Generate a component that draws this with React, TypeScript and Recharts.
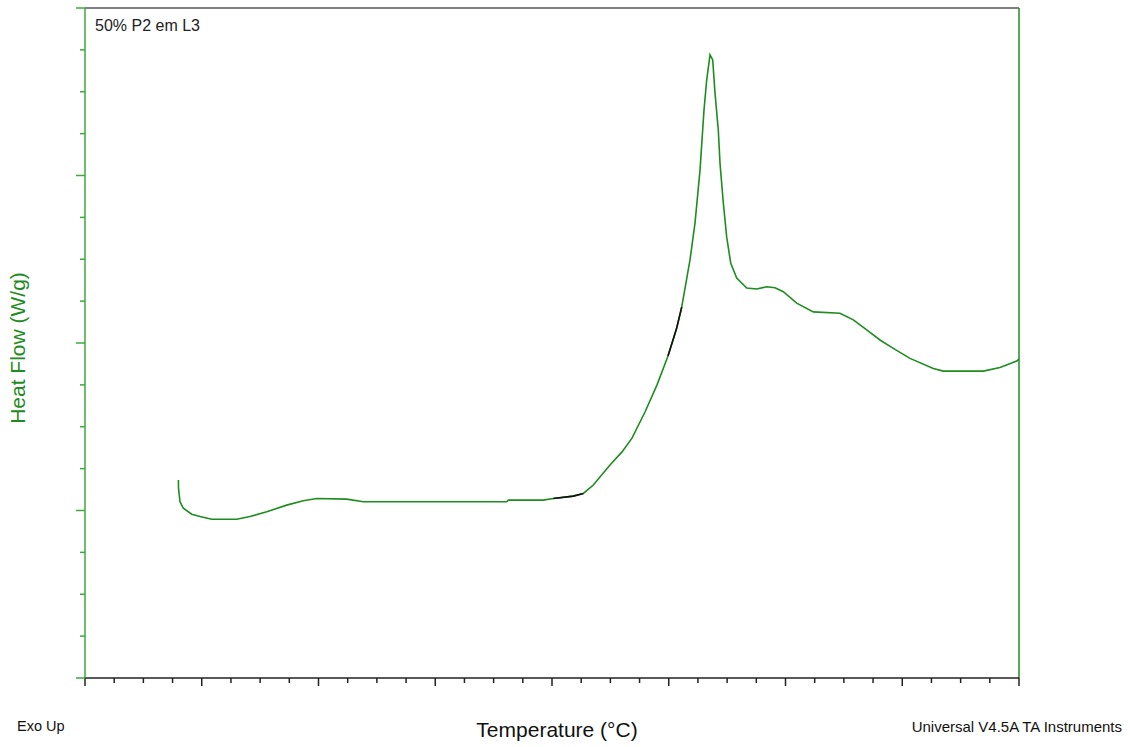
import React from 'react';
import { LineChart, Line, XAxis, YAxis, ReferenceLine } from 'recharts';

// DSC trace (temperature °C, heat flow W/g)
const temps = [
  -10.0, -9.96, -9.31, -7.9, -4.3, -0.75, 4.26, 14.97, 20.66, 27.82, 36.38, 43.49, 49.23, 62.08,
  69.19, 130.6, 131.29, 146.28, 150.56, 159.12, 163.41, 167.69, 174.84, 179.98, 184.26, 189.83,
  194.97, 199.68, 203.41, 205.55, 209.1, 211.24, 213.39, 215.1, 216.25, 217.67, 218.83, 219.81,
  221.22, 221.95, 223.37, 224.82, 226.53, 229.1, 233.39, 237.67, 241.95, 245.51, 249.06, 254.8,
  261.91, 273.34, 279.04, 284.78, 290.47, 296.17, 303.32, 313.3, 317.59, 334.71, 341.87, 349.02,
  350,
];
const heatFlow = [
  -0.409, -0.433, -0.474, -0.493, -0.511, -0.518, -0.526, -0.526, -0.518, -0.504, -0.484, -0.471,
  -0.464, -0.466, -0.474, -0.474, -0.469, -0.469, -0.464, -0.457, -0.449, -0.424, -0.364, -0.325,
  -0.284, -0.206, -0.125, -0.039, 0.045, 0.107, 0.248, 0.358, 0.516, 0.696, 0.785, 0.86, 0.845,
  0.746, 0.636, 0.537, 0.418, 0.316, 0.239, 0.194, 0.164, 0.161, 0.168, 0.165, 0.153, 0.119, 0.093,
  0.089, 0.069, 0.039, 0.009, -0.016, -0.046, -0.076, -0.084, -0.084, -0.073, -0.054, -0.048,
];
// temperature ranges drawn in black (analysis markers)
const markedRanges: [number, number][] = [
  [150.5, 163.5],
  [199.6, 205.6],
];

const X_MIN = -50;
const X_MAX = 350;
const X_MAJOR = 50;
const Y_MIN = -1;
const Y_MAX = 1;
const Y_MAJOR = 0.5;

const xTicks: number[] = [];
for (let i = 0; i <= 32; i++) xTicks.push(X_MIN + i * 12.5);
const yTicks: number[] = [];
for (let i = 0; i <= 16; i++) yTicks.push(Y_MIN + i * 0.125);

const data = temps.map((t, i) => ({
  t,
  hf: heatFlow[i],
  mark: markedRanges.some(([a, b]) => t >= a && t <= b) ? heatFlow[i] : null,
}));

const GREEN = '#1e8c1e';
const AXIS_GREEN = '#3da83d';
const FONT = '"Liberation Sans", Arial, sans-serif';

function isMajor(v: number, origin: number, step: number) {
  const r = Math.abs((v - origin) / step);
  return Math.abs(r - Math.round(r)) < 1e-6;
}

function XTick(props: any) {
  const { x, y, payload } = props;
  const len = isMajor(payload.value, X_MIN, X_MAJOR) ? 8 : 5;
  return <line x1={x} x2={x} y1={y} y2={y + len} stroke="#222" strokeWidth={1.5} />;
}

function YTick(props: any) {
  const { x, y, payload } = props;
  const len = isMajor(payload.value, Y_MIN, Y_MAJOR) ? 9 : 5;
  return <line x1={x - len} x2={x} y1={y} y2={y} stroke={AXIS_GREEN} strokeWidth={1.5} />;
}

export default function App() {
  return (
    <div
      style={{
        position: 'absolute',
        left: 0,
        top: 0,
        width: 1130,
        height: 747,
        background: '#fff',
        fontFamily: FONT,
      }}
    >
      <LineChart
        width={1130}
        height={747}
        data={data}
        margin={{ top: 8, right: 111, bottom: 59, left: 75 }}
      >
        <XAxis
          type="number"
          dataKey="t"
          domain={[X_MIN, X_MAX]}
          ticks={xTicks}
          interval={0}
          height={10}
          tickSize={0}
          tickMargin={0}
          tickLine={false}
          tick={<XTick />}
          axisLine={{ stroke: '#222', strokeWidth: 1.5 }}
          allowDataOverflow
        />
        <YAxis
          type="number"
          domain={[Y_MIN, Y_MAX]}
          ticks={yTicks}
          interval={0}
          width={10}
          tickSize={0}
          tickMargin={0}
          tickLine={false}
          tick={<YTick />}
          axisLine={{ stroke: AXIS_GREEN, strokeWidth: 1.5 }}
          allowDataOverflow
        />
        <ReferenceLine y={Y_MAX} stroke="#555" strokeWidth={1.5} />
        <ReferenceLine x={X_MAX} stroke={GREEN} strokeWidth={1.5} />
        <Line
          type="linear"
          dataKey="hf"
          stroke={GREEN}
          strokeWidth={1.6}
          dot={false}
          isAnimationActive={false}
        />
        <Line
          type="linear"
          dataKey="mark"
          stroke="#111"
          strokeWidth={1.6}
          dot={false}
          connectNulls={false}
          isAnimationActive={false}
        />
      </LineChart>

      <div style={{ position: 'absolute', left: 95, top: 17, fontSize: 16, color: '#222' }}>
        50% P2 em L3
      </div>
      <div
        style={{
          position: 'absolute',
          left: 18,
          top: 348,
          transform: 'translate(-50%, -50%) rotate(-90deg)',
          whiteSpace: 'nowrap',
          fontSize: 21,
          color: GREEN,
        }}
      >
        Heat Flow (W/g)
      </div>
      <div style={{ position: 'absolute', left: 17, top: 718, fontSize: 14.5, color: '#111' }}>
        Exo Up
      </div>
      <div
        style={{
          position: 'absolute',
          left: 557,
          top: 718,
          transform: 'translateX(-50%)',
          whiteSpace: 'nowrap',
          fontSize: 21,
          color: '#111',
        }}
      >
        Temperature (°C)
      </div>
      <div
        style={{
          position: 'absolute',
          right: 8,
          top: 718,
          whiteSpace: 'nowrap',
          fontSize: 15,
          color: '#111',
        }}
      >
        Universal V4.5A TA Instruments
      </div>
    </div>
  );
}
